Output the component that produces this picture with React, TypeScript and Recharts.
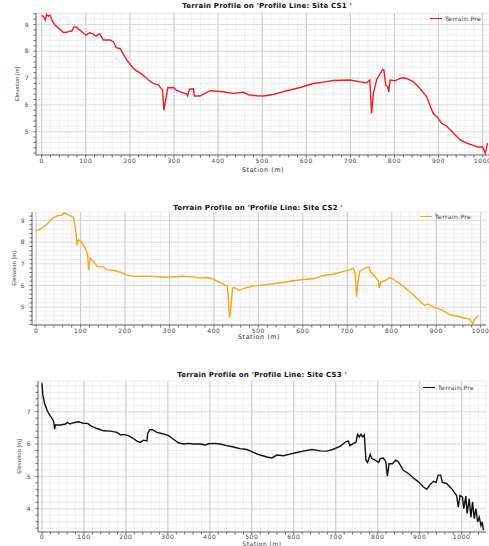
import React from 'react';
import { LineChart, Line, XAxis, YAxis, CartesianGrid, ReferenceLine, Legend } from 'recharts';

// Site CS1 profile
const cs1Station = [0, 4, 8, 11, 15, 19, 23, 30, 42, 49, 57, 64, 68, 73, 79, 91, 100, 108, 117, 123, 131, 140, 155, 163, 169, 178, 193, 208, 215, 227, 242, 253, 265, 274, 277, 281, 286, 299, 305, 317, 329, 331, 335, 344, 346, 359, 370, 382, 404, 435, 457, 469, 488, 503, 525, 556, 586, 616, 642, 661, 699, 722, 737, 744, 748, 752, 760, 767, 773, 776, 780, 784, 787, 790, 801, 813, 820, 831, 843, 858, 873, 881, 888, 896, 907, 918, 934, 949, 964, 980, 990, 1000, 1006, 1011];
const cs1Elevation = [9.35, 9.29, 9.16, 9.38, 9.31, 9.35, 9.16, 8.98, 8.81, 8.7, 8.71, 8.76, 8.75, 8.91, 8.89, 8.73, 8.6, 8.69, 8.64, 8.57, 8.66, 8.42, 8.42, 8.35, 8.14, 8.1, 7.67, 7.36, 7.27, 7.15, 6.93, 6.8, 6.74, 6.55, 5.8, 6.18, 6.64, 6.65, 6.55, 6.47, 6.4, 6.34, 6.59, 6.6, 6.33, 6.33, 6.43, 6.53, 6.5, 6.43, 6.47, 6.38, 6.34, 6.33, 6.39, 6.53, 6.65, 6.8, 6.86, 6.91, 6.93, 6.86, 6.83, 6.93, 5.68, 6.43, 6.96, 7.15, 7.32, 7.3, 6.74, 6.7, 6.49, 6.93, 6.9, 6.99, 7.01, 6.96, 6.86, 6.61, 6.3, 5.96, 5.68, 5.56, 5.31, 5.21, 4.94, 4.69, 4.57, 4.48, 4.42, 4.44, 4.19, 4.57];

// Site CS2 profile
const cs2Station = [0, 11, 23, 38, 50, 58, 62, 68, 75, 84, 86, 90, 92, 95, 101, 110, 116, 118, 122, 129, 137, 152, 159, 176, 191, 203, 218, 257, 293, 332, 354, 368, 383, 398, 413, 424, 430, 433, 435, 438, 442, 446, 456, 469, 488, 511, 533, 557, 578, 601, 623, 645, 668, 691, 706, 713, 717, 721, 724, 728, 736, 743, 749, 752, 758, 764, 770, 772, 775, 784, 796, 803, 818, 833, 851, 866, 874, 881, 893, 912, 931, 950, 965, 976, 982, 987, 995];
const cs2Elevation = [8.52, 8.62, 8.8, 9.11, 9.23, 9.26, 9.34, 9.32, 9.23, 9.14, 8.95, 8.42, 7.85, 8.11, 8.03, 7.75, 7.42, 6.72, 7.26, 7.11, 6.88, 6.85, 6.72, 6.69, 6.6, 6.49, 6.42, 6.43, 6.38, 6.43, 6.4, 6.34, 6.37, 6.3, 6.15, 6.03, 5.98, 5.26, 4.52, 4.95, 5.88, 5.91, 5.78, 5.88, 5.98, 6.03, 6.08, 6.15, 6.22, 6.28, 6.31, 6.45, 6.52, 6.65, 6.72, 6.8, 6.65, 5.49, 6.18, 6.65, 6.75, 6.83, 6.85, 6.62, 6.52, 6.37, 6.22, 5.88, 6.15, 6.22, 6.37, 6.3, 6.08, 5.85, 5.52, 5.23, 5.08, 5.14, 5.03, 4.88, 4.65, 4.57, 4.49, 4.45, 4.23, 4.46, 4.62];

// Site CS3 profile
const cs3Station = [0, 2, 6, 12, 18, 24, 28, 30, 32, 44, 56, 60, 67, 75, 87, 99, 109, 115, 131, 147, 163, 179, 187, 194, 206, 218, 226, 234, 242, 250, 252, 256, 262, 274, 290, 302, 313, 325, 337, 349, 361, 377, 389, 397, 409, 425, 440, 456, 472, 488, 504, 520, 536, 548, 560, 575, 591, 607, 623, 643, 663, 679, 694, 710, 724, 730, 734, 742, 748, 752, 756, 760, 764, 768, 772, 776, 782, 786, 794, 802, 806, 813, 819, 823, 827, 835, 843, 849, 861, 873, 885, 897, 909, 917, 925, 933, 939, 944, 950, 954, 964, 976, 988, 992, 996, 1002, 1005, 1010, 1013, 1018, 1022, 1026, 1030, 1034, 1038, 1042, 1046, 1049, 1052];
const cs3Elevation = [7.88, 7.52, 7.26, 7.05, 6.9, 6.79, 6.69, 6.46, 6.59, 6.59, 6.62, 6.67, 6.62, 6.66, 6.69, 6.64, 6.64, 6.57, 6.48, 6.41, 6.4, 6.36, 6.28, 6.3, 6.26, 6.17, 6.09, 6.05, 6.12, 6.1, 6.33, 6.43, 6.45, 6.36, 6.31, 6.26, 6.15, 6.04, 6.0, 6.02, 6.0, 6.0, 5.97, 6.01, 6.02, 6.0, 5.95, 5.91, 5.86, 5.83, 5.74, 5.66, 5.6, 5.57, 5.66, 5.64, 5.69, 5.74, 5.78, 5.83, 5.79, 5.78, 5.84, 5.93, 6.07, 6.09, 5.95, 6.02, 6.05, 6.3, 6.22, 6.3, 6.22, 6.28, 5.5, 5.43, 5.68, 5.55, 5.5, 5.43, 5.55, 5.57, 5.47, 5.01, 5.39, 5.39, 5.5, 5.45, 5.19, 5.09, 4.95, 4.83, 4.67, 4.6, 4.75, 4.85, 4.81, 5.04, 5.04, 4.81, 4.78, 4.62, 4.41, 4.05, 4.41, 4.36, 4.0, 4.39, 3.85, 4.31, 3.74, 4.21, 3.69, 4.0, 3.59, 3.74, 3.48, 3.59, 3.33];

const stationTicks = [0, 100, 200, 300, 400, 500, 600, 700, 800, 900, 1000];
const cs1ElevTicks = [5, 6, 7, 8, 9];
const cs2ElevTicks = [5, 6, 7, 8, 9];
const cs3ElevTicks = [4, 5, 6, 7];

const FONT = '"DejaVu Sans", Verdana, sans-serif';

const steps = (start: number, end: number, step: number) => {
  const out: number[] = [];
  for (let v = start; v <= end + 1e-9; v += step) out.push(Math.round(v * 100) / 100);
  return out;
};

const toRows = (st: number[], el: number[]) => st.map((s, i) => ({ station: s, elevation: el[i] }));

interface ProfileProps {
  title: string;
  titleX: number;
  titleY: number;
  station: number[];
  elevation: number[];
  color: string;
  top: number;
  boxHeight: number;
  chartWidth: number;
  chartHeight: number;
  margin: { top: number; right: number; left: number; bottom: number };
  yAxisWidth: number;
  xAxisHeight: number;
  xDomain: [number, number];
  yDomain: [number, number];
  xMax: number;
  yMajor: number[];
  yLabelOffset: number;
  xLabelOffset: number;
  xTickMargin: number;
  xLabelSize: number;
  legendX: number;
  legendY: number;
}

const isWhole = (v: number) => Math.abs(v - Math.round(v)) < 1e-6;

const ProfileChart: React.FC<ProfileProps> = (p) => {
  const data = toRows(p.station, p.elevation);
  const xTicks = steps(0, p.xMax, 20);
  const yTicks = steps(Math.ceil(p.yDomain[0] * 5) / 5, p.yDomain[1], 0.2);
  const xMajor = stationTicks.filter((t) => t <= p.xMax);

  return (
    <div style={{ position: 'absolute', left: 0, top: p.top, width: 489, height: p.boxHeight, overflow: 'hidden' }}>
      <div
        style={{
          position: 'absolute',
          left: p.titleX - 150,
          width: 300,
          top: p.titleY - p.top - 4.5,
          textAlign: 'center',
          fontFamily: FONT,
          fontWeight: 'bold',
          fontSize: 7,
          letterSpacing: 0.2,
          lineHeight: '9px',
          color: '#111',
          zIndex: 2,
        }}
      >
        {p.title}
      </div>
      <LineChart width={p.chartWidth} height={p.chartHeight} data={data} margin={p.margin}>
        <CartesianGrid stroke="#e4e4e4" strokeWidth={0.6} />
        {xMajor.map((t) => (
          <ReferenceLine key={'x' + t} x={t} stroke="#c2c2c2" strokeWidth={0.8} />
        ))}
        {p.yMajor.map((t) => (
          <ReferenceLine key={'y' + t} y={t} stroke="#d6d6d6" strokeWidth={0.7} />
        ))}
        <XAxis
          dataKey="station"
          type="number"
          domain={p.xDomain}
          allowDataOverflow
          ticks={xTicks}
          interval={0}
          height={p.xAxisHeight}
          tickSize={2.5}
          tickMargin={p.xTickMargin}
          stroke="#666"
          tickFormatter={(v: number) => (v % 100 === 0 ? String(v) : '')}
          tick={{ fontSize: 6, fill: '#444', fontFamily: FONT, letterSpacing: 0.6 }}
          label={{
            value: 'Station (m)',
            position: 'insideBottom',
            offset: p.xLabelOffset,
            style: { fontSize: p.xLabelSize, fill: '#333', fontFamily: FONT, letterSpacing: 0.5 },
          }}
        />
        <XAxis xAxisId="frame" orientation="top" type="number" domain={p.xDomain} allowDataOverflow height={0} tick={false} tickLine={false} stroke="#888" />
        <YAxis
          dataKey="elevation"
          type="number"
          domain={p.yDomain}
          allowDataOverflow
          ticks={yTicks}
          interval={0}
          width={p.yAxisWidth}
          tickSize={2.5}
          tickMargin={5}
          stroke="#666"
          tickFormatter={(v: number) => (isWhole(v) ? String(Math.round(v)) : '')}
          tick={{ fontSize: 6, fill: '#444', fontFamily: FONT }}
          label={{
            value: 'Elevation [m]',
            angle: -90,
            position: 'insideLeft',
            offset: p.yLabelOffset,
            style: { fontSize: 6, fill: '#444', fontFamily: '"Liberation Sans Narrow", "Liberation Sans", sans-serif', textAnchor: 'middle' },
          }}
        />
        <Legend
          layout="horizontal"
          verticalAlign="middle"
          align="center"
          wrapperStyle={{ left: p.legendX, top: p.legendY - p.top - 5, width: 70, height: 10 }}
          content={() => (
            <div style={{ display: 'flex', alignItems: 'center', fontFamily: FONT, fontSize: 6, color: '#333', letterSpacing: 0.4 }}>
              <span style={{ display: 'inline-block', width: 12, height: 1.2, background: p.color, marginRight: 3 }} />
              Terrain.Pre
            </div>
          )}
        />
        <Line
          type="linear"
          dataKey="elevation"
          stroke={p.color}
          strokeWidth={1.4}
          dot={false}
          isAnimationActive={false}
          legendType="plainline"
        />
      </LineChart>
    </div>
  );
};

export default function App() {
  return (
    <div style={{ position: 'absolute', left: 0, top: 0, width: 489, height: 546, background: '#fff', overflow: 'hidden' }}>
      <ProfileChart
        title="Terrain Profile on 'Profile Line: Site CS1 '"
        titleX={267}
        titleY={6}
        station={cs1Station}
        elevation={cs1Elevation}
        color="#f01c22"
        top={0}
        boxHeight={175}
        chartWidth={492}
        chartHeight={175}
        margin={{ top: 13, right: 2, left: 16, bottom: 0 }}
        yAxisWidth={20}
        xAxisHeight={20}
        xDomain={[-13, 1016.6]}
        yDomain={[4.13, 9.43]}
        xMax={1000}
        yMajor={cs1ElevTicks}
        yLabelOffset={1}
        xLabelOffset={3}
        xTickMargin={1}
        xLabelSize={6.5}
        legendX={430}
        legendY={20}
      />
      <ProfileChart
        title="Terrain Profile on 'Profile Line: Site CS2 '"
        titleX={258}
        titleY={208}
        station={cs2Station}
        elevation={cs2Elevation}
        color="#f7a51c"
        top={195}
        boxHeight={150}
        chartWidth={489}
        chartHeight={150}
        margin={{ top: 17, right: 3, left: 14, bottom: 6 }}
        yAxisWidth={18}
        xAxisHeight={14}
        xDomain={[-9.2, 1012]}
        yDomain={[4.18, 9.39]}
        xMax={1000}
        yMajor={cs2ElevTicks}
        yLabelOffset={0}
        xLabelOffset={0}
        xTickMargin={1}
        xLabelSize={6.5}
        legendX={420}
        legendY={218}
      />
      <ProfileChart
        title="Terrain Profile on 'Profile Line: Site CS3 '"
        titleX={262}
        titleY={375}
        station={cs3Station}
        elevation={cs3Elevation}
        color="#111111"
        top={345}
        boxHeight={201}
        chartWidth={489}
        chartHeight={205}
        margin={{ top: 36, right: 3, left: 18, bottom: 0 }}
        yAxisWidth={20}
        xAxisHeight={18}
        xDomain={[-9.5, 1058]}
        yDomain={[3.28, 7.95]}
        xMax={1040}
        yMajor={cs3ElevTicks}
        yLabelOffset={1}
        xLabelOffset={4}
        xTickMargin={0}
        xLabelSize={6}
        legendX={423}
        legendY={389}
      />
    </div>
  );
}
